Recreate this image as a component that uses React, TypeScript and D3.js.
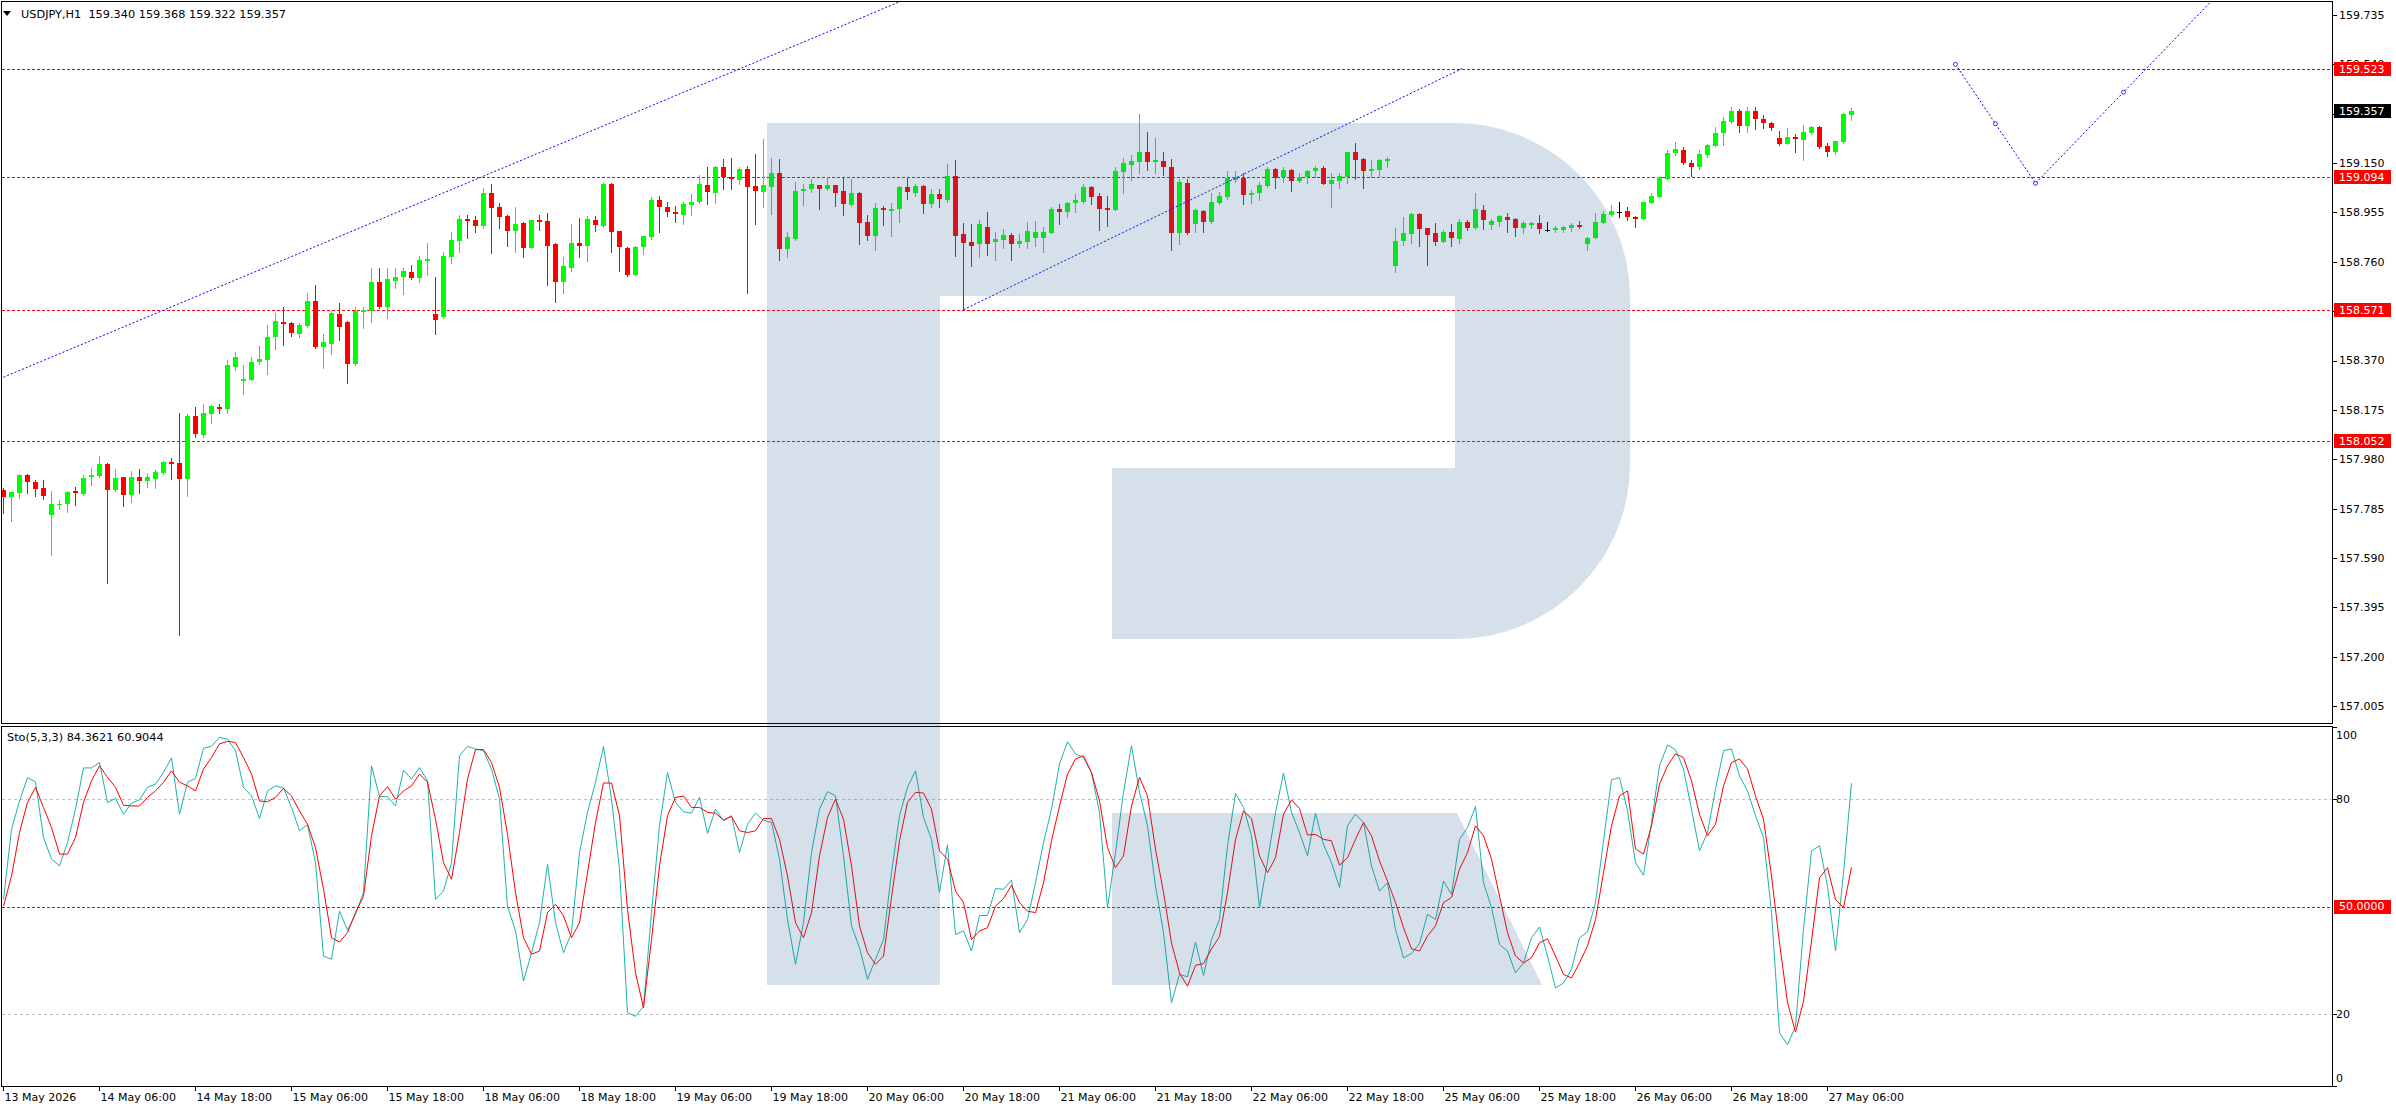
import React from "react";
import * as d3 from "d3";

// ---------- DATA ----------
const opens = [
157.858,157.830,157.847,157.917,157.889,157.867,157.759,157.799,157.803,157.854,
157.843,157.908,157.913,157.960,157.858,157.908,157.838,157.909,157.895,157.903,
157.927,157.968,157.965,157.903,158.149,158.077,158.160,158.187,158.180,158.346,
158.290,158.294,158.365,158.373,158.461,158.521,158.519,158.475,158.507,158.605,
158.424,158.435,158.552,158.524,158.355,158.562,158.566,158.679,158.581,158.685,
158.698,158.719,158.696,158.764,158.554,158.540,158.780,158.842,158.931,158.925,
158.901,159.032,158.976,158.940,158.881,158.914,158.816,158.925,158.921,158.830,
158.679,158.736,158.835,158.823,158.925,158.901,159.067,158.881,158.815,158.708,
158.819,158.859,159.004,158.976,158.957,158.946,158.984,158.995,159.065,159.032,
159.135,159.094,159.083,159.127,159.059,159.036,159.056,159.111,158.812,158.849,
159.039,159.048,159.063,159.049,159.063,159.039,158.986,159.032,158.916,158.861,
158.973,158.962,158.967,159.055,159.032,159.059,158.987,159.028,159.004,159.099,
158.868,158.837,158.829,158.897,158.837,158.846,158.864,158.829,158.839,158.855,
158.852,158.873,158.968,158.958,158.991,158.997,159.055,159.020,158.972,158.966,
159.116,159.142,159.153,159.194,159.155,159.158,159.133,158.872,159.071,158.909,
158.960,158.917,158.991,159.014,159.083,159.092,159.024,159.030,159.059,159.126,
159.093,159.122,159.080,159.093,159.117,159.130,159.068,159.078,159.095,159.194,
159.166,159.118,159.122,159.159,158.744,158.841,158.870,158.949,158.892,158.872,
158.838,158.876,158.851,158.916,158.895,158.964,158.906,158.916,158.937,158.928,
158.892,158.906,158.912,158.887,158.885,158.887,158.895,158.905,158.831,158.855,
158.914,158.946,158.958,158.960,158.938,158.931,158.993,159.017,159.088,159.188,
159.201,159.151,159.133,159.182,159.219,159.267,159.313,159.356,159.296,159.356,
159.324,159.309,159.249,159.226,159.253,159.241,159.270,159.292,159.219,159.195,
159.233,159.340];

const highs = [
157.868,157.852,157.920,157.922,157.896,157.896,157.854,157.819,157.854,157.871,
157.917,157.946,157.991,157.967,157.941,157.910,157.932,157.941,157.924,157.939,
157.974,157.984,158.162,158.157,158.186,158.197,158.195,158.197,158.373,158.404,
158.351,158.383,158.428,158.510,158.557,158.581,158.524,158.517,158.637,158.668,
158.475,158.566,158.598,158.527,158.581,158.581,158.736,158.736,158.736,158.736,
158.736,158.746,158.781,158.835,158.699,158.799,158.877,158.945,158.945,158.940,
159.053,159.067,158.993,158.945,158.977,158.919,158.926,158.945,158.953,158.835,
158.777,158.909,158.933,158.940,158.939,159.070,159.070,158.883,158.818,158.822,
158.863,159.014,159.019,158.997,158.980,158.997,159.028,159.103,159.135,159.138,
159.166,159.170,159.135,159.137,159.187,159.247,159.169,159.166,158.877,159.077,
159.069,159.086,159.065,159.094,159.065,159.094,159.089,159.035,158.945,158.994,
158.981,158.994,159.060,159.091,159.067,159.063,159.049,159.046,159.146,159.162,
158.912,158.909,158.927,158.956,158.879,158.889,158.875,158.868,158.918,158.921,
158.899,158.975,158.988,158.996,159.026,159.067,159.059,159.033,159.021,159.133,
159.171,159.182,159.344,159.274,159.248,159.195,159.165,159.088,159.086,158.967,
158.964,159.033,159.034,159.120,159.118,159.109,159.043,159.076,159.133,159.132,
159.136,159.128,159.112,159.122,159.138,159.138,159.109,159.109,159.195,159.228,
159.171,159.161,159.165,159.174,158.892,158.935,158.954,158.954,158.893,158.912,
158.885,158.908,158.931,158.925,159.030,158.983,158.928,158.945,158.951,158.934,
158.921,158.917,158.945,158.917,158.901,158.901,158.912,158.920,158.859,158.951,
158.962,158.984,158.996,158.978,158.941,158.997,159.030,159.096,159.203,159.233,
159.215,159.162,159.201,159.225,159.294,159.331,159.370,159.362,159.370,159.370,
159.340,159.313,159.277,159.287,159.263,159.300,159.296,159.296,159.228,159.238,
159.346,159.368];

const lows = [
157.769,157.737,157.826,157.847,157.833,157.822,157.603,157.783,157.772,157.800,
157.840,157.878,157.910,157.491,157.854,157.795,157.812,157.847,157.872,157.865,
157.923,157.900,157.287,157.836,158.068,158.068,158.122,158.163,158.162,158.334,
158.239,158.291,158.355,158.317,158.416,158.432,158.468,158.461,158.504,158.421,
158.341,158.397,158.451,158.281,158.352,158.499,158.524,158.578,158.538,158.658,
158.633,158.693,158.679,158.708,158.475,158.537,158.757,158.797,158.854,158.877,
158.894,158.795,158.894,158.823,158.797,158.778,158.813,158.884,158.670,158.602,
158.637,158.725,158.778,158.764,158.883,158.898,158.798,158.722,158.705,158.706,
158.792,158.849,158.877,158.940,158.916,158.908,158.945,158.993,158.990,158.993,
159.046,159.046,159.067,158.637,158.909,158.976,158.950,158.768,158.777,158.846,
158.984,159.035,158.969,159.043,158.980,158.945,158.980,158.830,158.847,158.806,
158.907,158.863,158.916,159.008,159.021,158.951,158.978,158.978,158.997,158.783,
158.571,158.743,158.780,158.787,158.767,158.813,158.767,158.817,158.813,158.822,
158.800,158.872,158.909,158.938,158.958,158.993,158.987,158.887,158.903,158.964,
159.033,159.083,159.112,159.122,159.109,159.103,158.806,158.830,158.870,158.879,
158.879,158.914,158.987,159.010,159.076,158.988,158.991,159.004,159.054,159.053,
159.075,159.039,159.076,159.070,159.096,159.067,158.978,159.053,159.070,159.086,
159.053,159.093,159.096,159.136,158.719,158.826,158.833,158.823,158.747,158.826,
158.837,158.823,158.835,158.885,158.891,158.889,158.889,158.903,158.879,158.863,
158.875,158.893,158.875,158.883,158.879,158.879,158.883,158.895,158.806,158.852,
158.912,158.942,158.935,158.927,158.899,158.929,158.991,159.014,159.086,159.182,
159.145,159.099,159.125,159.175,159.217,159.221,159.309,159.274,159.274,159.283,
159.287,159.280,159.221,159.224,159.195,159.162,159.265,159.209,159.178,159.186,
159.230,159.322];

const closes = [
157.830,157.850,157.917,157.889,157.864,157.836,157.803,157.803,157.850,157.847,
157.906,157.917,157.960,157.858,157.906,157.840,157.909,157.895,157.909,157.929,
157.968,157.963,157.903,158.149,158.081,158.162,158.190,158.180,158.352,158.383,
158.297,158.366,158.376,158.462,158.526,158.514,158.480,158.510,158.605,158.424,
158.442,158.558,158.503,158.356,158.566,158.571,158.679,158.581,158.693,158.699,
158.723,158.696,158.767,158.771,158.531,158.782,158.846,158.929,158.922,158.901,
159.032,158.974,158.938,158.883,158.909,158.816,158.925,158.918,158.823,158.679,
158.743,158.835,158.823,158.929,158.907,159.067,158.877,158.819,158.708,158.819,
158.861,159.004,158.976,158.957,158.950,158.987,158.998,159.066,159.035,159.135,
159.094,159.086,159.127,159.056,159.041,159.062,159.111,158.812,158.859,159.039,
159.048,159.066,159.049,159.063,159.032,158.988,159.032,158.915,158.861,158.973,
158.966,158.969,159.055,159.035,159.059,158.988,159.028,159.008,159.099,158.863,
158.835,158.823,158.909,158.830,158.851,158.867,158.831,158.842,158.881,158.879,
158.876,158.968,158.958,158.992,159.004,159.055,159.017,158.968,158.966,159.120,
159.150,159.157,159.194,159.155,159.162,159.136,158.875,159.075,158.873,158.964,
158.918,158.996,159.020,159.090,159.095,159.024,159.032,159.063,159.126,159.092,
159.122,159.080,159.095,159.118,159.132,159.068,159.083,159.097,159.194,159.162,
159.118,159.125,159.161,159.166,158.841,158.874,158.949,158.889,158.866,158.838,
158.879,158.855,158.916,158.895,158.968,158.925,158.920,158.941,158.925,158.892,
158.913,158.913,158.888,158.887,158.893,158.897,158.905,158.899,158.854,158.916,
158.949,158.959,158.958,158.938,158.931,158.995,159.021,159.093,159.191,159.205,
159.151,159.134,159.186,159.221,159.270,159.316,159.356,159.296,159.356,159.323,
159.309,159.287,159.224,159.253,159.244,159.273,159.294,159.215,159.195,159.237,
159.344,159.357];

const stochMain = [
52.0,71.5,79.4,85.9,84.7,69.2,63.2,61.3,67.8,77.1,
88.6,88.6,90.1,79.0,80.1,75.7,78.8,79.7,83.2,84.1,
87.3,91.4,75.7,84.6,85.7,94.1,94.6,97.1,96.6,93.4,
83.2,80.8,74.5,82.2,83.6,83.0,77.6,71.1,72.8,62.2,
36.2,35.3,48.7,43.4,47.8,53.9,89.2,80.6,80.6,78.0,
88.0,85.5,88.7,85.0,52.0,54.3,62.2,92.0,94.6,93.9,
93.4,88.3,79.9,50.1,43.2,29.2,37.1,45.5,61.8,45.5,
37.1,42.7,65.0,76.2,84.6,94.6,79.9,60.4,20.4,19.4,
22.2,48.3,72.5,87.3,79.0,76.4,76.0,80.4,70.4,77.1,
73.9,75.3,65.0,72.9,76.0,74.0,73.4,63.2,46.4,33.9,
45.5,65.0,77.1,82.0,80.8,64.1,44.6,38.5,29.7,35.3,
40.8,59.4,75.3,83.2,87.8,74.8,68.7,53.9,67.2,42.2,
43.2,37.6,47.5,47.5,55.0,54.8,57.4,42.7,46.4,56.6,
67.8,77.1,89.7,95.9,92.5,91.5,87.3,76.2,49.7,65.0,
81.8,94.8,81.8,72.5,55.7,42.7,23.2,31.1,30.4,40.1,
30.8,40.8,46.4,66.9,81.5,77.6,69.7,49.7,62.7,76.2,
87.2,76.2,70.6,64.1,76.0,67.3,62.2,55.3,72.5,75.7,
73.4,61.3,54.3,56.6,43.6,35.7,36.9,39.7,47.8,46.4,
57.1,53.4,68.7,72.0,77.9,56.6,49.7,39.4,37.6,31.5,
34.3,41.3,44.3,36.2,27.3,28.7,32.5,41.3,42.9,51.1,
68.3,85.3,85.9,76.7,62.2,58.7,73.4,89.2,95.0,93.7,
88.3,77.1,65.5,70.6,82.7,93.4,93.9,86.4,82.2,75.3,
69.2,48.3,14.8,11.5,16.6,43.6,65.5,66.9,55.7,37.6,
59.4,84.3621];

const stochSignal = [
50.1,58.5,70.6,79.0,83.2,77.6,72.0,64.6,64.6,69.2,
79.0,85.0,89.2,86.0,83.2,78.2,78.0,78.0,80.4,82.2,
84.6,87.8,84.6,83.6,82.2,88.3,91.5,95.3,96.0,95.7,
91.5,86.9,79.4,79.2,80.4,82.9,80.8,76.6,72.9,66.4,
54.8,41.3,40.1,42.7,48.3,52.9,69.7,80.8,83.4,79.9,
82.2,83.6,86.9,84.6,74.3,62.2,57.6,70.6,85.5,93.7,
93.7,90.1,83.2,70.1,53.9,41.3,36.7,37.6,48.3,50.6,
47.4,41.3,45.5,59.4,73.4,84.4,84.4,75.3,49.2,31.5,
21.8,40.8,61.3,75.3,80.4,80.8,77.6,77.6,76.2,76.0,
74.1,75.1,71.1,70.6,71.1,74.5,74.5,68.7,58.5,45.5,
41.3,48.3,64.1,74.8,79.9,74.3,61.3,44.6,37.1,33.9,
36.2,52.5,68.3,79.0,81.8,81.6,77.1,65.5,63.2,54.3,
51.1,40.8,43.2,44.1,50.1,52.2,55.9,51.1,48.7,48.3,
56.6,68.3,78.0,86.9,91.1,92.0,87.3,79.4,66.4,60.8,
64.1,78.0,86.0,80.8,66.0,53.9,39.9,31.5,27.8,33.6,
34.1,38.2,41.6,53.9,68.7,76.6,74.5,64.1,59.4,63.6,
75.7,79.7,77.3,69.9,70.1,68.7,68.3,61.5,63.6,68.7,
73.4,69.7,62.7,57.1,51.1,44.1,38.2,37.6,41.8,44.6,
51.1,52.5,60.4,65.0,72.5,69.7,63.2,52.9,42.7,36.2,
34.3,35.7,39.9,41.0,36.2,31.1,30.1,34.3,39.0,46.4,
59.4,72.5,80.8,82.2,66.0,64.6,72.5,84.1,89.2,92.5,
91.5,85.0,75.7,69.7,72.9,83.6,90.1,91.1,88.3,80.8,
74.3,58.5,39.9,23.2,15.0,23.6,40.4,58.0,60.8,52.0,
49.7,60.9044];

const timeLabels = [
  "13 May 2026", "14 May 06:00", "14 May 18:00", "15 May 06:00", "15 May 18:00",
  "18 May 06:00", "18 May 18:00", "19 May 06:00", "19 May 18:00", "20 May 06:00",
  "20 May 18:00", "21 May 06:00", "21 May 18:00", "22 May 06:00", "22 May 18:00",
  "25 May 06:00", "25 May 18:00", "26 May 06:00", "26 May 18:00", "27 May 06:00",
];
const timeLabelBars = [0, 12, 24, 36, 48, 60, 72, 84, 96, 108, 120, 132, 144, 156, 168, 180, 192, 204, 216, 228];

const priceTicks = [159.735, 159.540, 159.345, 159.150, 158.955, 158.760, 158.565, 158.370,
  158.175, 157.980, 157.785, 157.590, 157.395, 157.200, 157.005];
const levelPrices = [159.523, 159.094, 158.571, 158.052];
const currentPrice = 159.357;
const stochTicks = [100, 80, 20, 0];
const stochGrayLevels = [80, 20];
const stochRedLevel = 50;

const trendLine1 = [{ bar: 0, price: 158.304 }, { bar: 112, price: 159.787 }];
const trendLine2 = [{ bar: 120, price: 158.571 }, { bar: 182.3, price: 159.523 }];
const forecastPath = [
  { bar: 244, price: 159.540 },
  { bar: 254, price: 159.070 },
  { bar: 276, price: 159.790 },
];

const headerText = "USDJPY,H1  159.340 159.368 159.322 159.357";
const stochHeader = "Sto(5,3,3) 84.3621 60.9044";

// ---------- LAYOUT ----------
const W = 2396, H = 1110;
const PL = 2, PR = 2332;
const MT = 2, MB = 723;
const ST = 727, SB = 1086;
const FONT = "'DejaVu Sans', Tahoma, Verdana, sans-serif";
const GREEN = "#00FF00", RED = "#FF0000";

export default function App() {
  const x = d3.scaleLinear().domain([0, 231]).range([3.5, 3.5 + 8 * 231]);
  const y = d3.scaleLinear().domain([157.005, 159.735]).range([706, 15]);
  const ys = d3.scaleLinear().domain([0, 100]).range([SB, ST]);

  const bars = opens.map((o, i) => ({ o, h: highs[i], l: lows[i], c: closes[i] }));

  const lineStoch = d3.line<number>().x((_, i) => x(i)).y((v) => ys(v));
  const linePts = d3.line<{ bar: number; price: number }>().x((d) => x(d.bar)).y((d) => y(d.price));

  // anchor markers: leg endpoints and leg midpoints
  const markers: { bar: number; price: number }[] = [];
  for (let k = 0; k < forecastPath.length - 1; k++) {
    const a = forecastPath[k], b = forecastPath[k + 1];
    markers.push(a);
    markers.push({ bar: (a.bar + b.bar) / 2, price: (a.price + b.price) / 2 });
  }

  return (
    <svg width={W} height={H} style={{ position: "absolute", left: 0, top: 0, background: "#fff" }}
      fontFamily={FONT}>
      <defs>
        <clipPath id="mainClip"><rect x={PL} y={MT} width={PR - PL} height={MB - MT} /></clipPath>
        <clipPath id="subClip"><rect x={PL} y={ST} width={PR - PL} height={SB - ST} /></clipPath>
      </defs>
      <rect x={0} y={0} width={W} height={H} fill="#fff" />

      {/* main panel */}
      <g clipPath="url(#mainClip)">
        {levelPrices.map((p) => (
          <line key={p} x1={PL} x2={PR} y1={Math.round(y(p)) + 0.5} y2={Math.round(y(p)) + 0.5}
            stroke={RED} strokeDasharray="3,2" />
        ))}
        {bars.map((b, i) => {
          const cx = x(i);
          const col = b.c > b.o ? GREEN : b.c < b.o ? RED : "#000";
          const yt = Math.round(y(Math.max(b.o, b.c)));
          const yb = Math.round(y(Math.min(b.o, b.c)));
          return (
            <g key={i}>
              <line x1={cx} x2={cx} y1={Math.round(y(b.h))} y2={Math.round(y(b.l)) + 1} stroke={col} />
              <rect x={cx - 2.5} y={yt} width={5} height={Math.max(1, yb - yt)} fill={col} />
            </g>
          );
        })}
        <path d={linePts(trendLine1) || ""} stroke="#0000FF" fill="none" strokeDasharray="2,2" />
        <path d={linePts(trendLine2) || ""} stroke="#0000FF" fill="none" strokeDasharray="2,2" />
        <path d={linePts(forecastPath) || ""} stroke="#0000FF" fill="none" strokeDasharray="2,2" />
        {markers.map((d, k) => (
          <circle key={k} cx={x(d.bar)} cy={y(d.price)} r={2} fill="#fff" stroke="#0000FF" strokeWidth={0.8} />
        ))}
      </g>

      {/* sub panel */}
      <g clipPath="url(#subClip)">
        {stochGrayLevels.map((v) => (
          <line key={v} x1={PL} x2={PR} y1={Math.round(ys(v)) + 0.5} y2={Math.round(ys(v)) + 0.5}
            stroke="#C0C0C0" strokeDasharray="3,3" />
        ))}
        <line x1={PL} x2={PR} y1={Math.round(ys(stochRedLevel)) + 0.5} y2={Math.round(ys(stochRedLevel)) + 0.5}
          stroke={RED} strokeDasharray="3,2" />
        <path d={lineStoch(stochMain) || ""} fill="none" stroke="#20B2AA" strokeWidth={1} />
        <path d={lineStoch(stochSignal) || ""} fill="none" stroke={RED} strokeWidth={1} />
      </g>

      {/* frames */}
      <rect x={1.5} y={1.5} width={PR - 1} height={MB - 1} fill="none" stroke="#000" />
      <rect x={1.5} y={ST - 0.5} width={PR - 1} height={SB - ST + 1} fill="none" stroke="#000" />

      {/* watermark logo */}
      <g fill="rgb(45,100,155)" fillOpacity={0.2}>
        <path d="M767,123 H1455 A175,175 0 0 1 1630,298 V464 A175,175 0 0 1 1455,639 H1112 V468 H1455 V296 H940 V985 H767 Z" />
        <path d="M1112,813 H1457 L1542,985 H1112 Z" />
      </g>

      {/* header labels */}
      <rect x={2} y={2} width={292} height={18} fill="#fff" />
      <path d="M3,11 L11,11 L7,16 Z" fill="#000" />
      <text x={21} y={18} fontSize={11.3} fill="#000" style={{ whiteSpace: "pre" }}>{headerText}</text>
      <text x={7} y={741} fontSize={11.3} fill="#000">{stochHeader}</text>

      {/* price axis */}
      {priceTicks.map((p) => (
        <g key={p}>
          <line x1={PR + 1} x2={PR + 5} y1={Math.round(y(p)) + 0.5} y2={Math.round(y(p)) + 0.5} stroke="#000" />
          <text x={2339} y={y(p)} dy="0.36em" fontSize={11} fill="#000">{p.toFixed(3)}</text>
        </g>
      ))}
      {levelPrices.map((p) => (
        <g key={p}>
          <rect x={2334} y={Math.round(y(p)) - 7} width={57} height={14} fill={RED} />
          <text x={2339} y={y(p)} dy="0.36em" fontSize={11} fill="#fff">{p.toFixed(3)}</text>
        </g>
      ))}
      <rect x={2334} y={Math.round(y(currentPrice)) - 7} width={57} height={14} fill="#000" />
      <text x={2339} y={y(currentPrice)} dy="0.36em" fontSize={11} fill="#fff">{currentPrice.toFixed(3)}</text>

      {/* stoch axis */}
      {stochTicks.map((v) => {
        const yy = ys(v);
        const ly = v === 100 ? yy + 8 : v === 0 ? yy - 8 : yy;
        return (
          <g key={v}>
            <line x1={PR + 1} x2={PR + 5} y1={Math.round(yy) + 0.5} y2={Math.round(yy) + 0.5} stroke="#000" />
            <text x={2336} y={ly} dy="0.36em" fontSize={11} fill="#000">{v}</text>
          </g>
        );
      })}
      <rect x={2334} y={Math.round(ys(stochRedLevel)) - 7} width={57} height={14} fill={RED} />
      <text x={2339} y={ys(stochRedLevel)} dy="0.36em" fontSize={11} fill="#fff">{stochRedLevel.toFixed(4)}</text>

      {/* time axis */}
      {timeLabels.map((t, k) => {
        const xx = x(timeLabelBars[k]);
        return (
          <g key={t}>
            <line x1={xx} x2={xx} y1={SB} y2={SB + 5} stroke="#000" />
            <text x={xx + 1} y={1101} fontSize={11} fill="#000">{t}</text>
          </g>
        );
      })}
    </svg>
  );
}
